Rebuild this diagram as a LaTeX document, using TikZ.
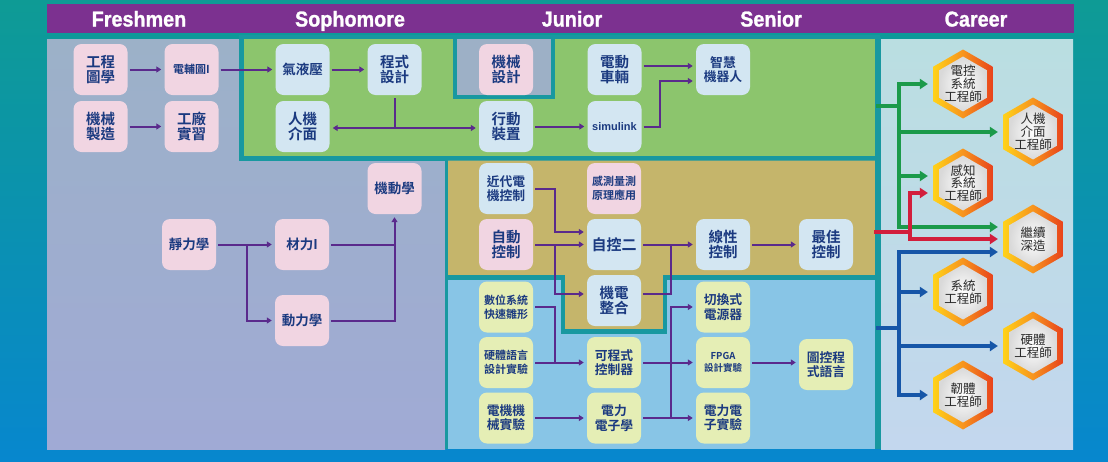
\documentclass[tikz,border=0pt]{standalone}
\usepackage{fontspec}
\newfontfamily\cjk{Noto Sans CJK TC}[BoldFont={Noto Sans CJK TC Bold}]
\newfontfamily\hdrfont{Liberation Sans}[FakeStretch=0.92,FakeBold=1.2]
\newfontfamily\latinfont{Liberation Sans}
\usetikzlibrary{arrows.meta,shapes.geometric}
\definecolor{bgtop}{HTML}{0E9B95}
\definecolor{bgbot}{HTML}{0787CE}
\definecolor{hdrc}{HTML}{7C3190}
\definecolor{lefttop}{HTML}{9CB1C8}
\definecolor{leftbot}{HTML}{A0AAD5}
\definecolor{greenc}{HTML}{8CC56D}
\definecolor{tanc}{HTML}{C5B56B}
\definecolor{bluec}{HTML}{88C5E6}
\definecolor{cartop}{HTML}{BADEE1}
\definecolor{carbot}{HTML}{C3D7EE}
\definecolor{tealb}{HTML}{1898A0}
\definecolor{cutc}{HTML}{9DB0C6}
\definecolor{pinkc}{HTML}{F1D5E2}
\definecolor{lbc}{HTML}{D3E6F2}
\definecolor{ylc}{HTML}{E5EEB5}
\definecolor{navy}{HTML}{1B3A80}
\definecolor{arrc}{HTML}{5A2A8C}
\definecolor{garc}{HTML}{1B9A4A}
\definecolor{rarc}{HTML}{D21E3C}
\definecolor{barc}{HTML}{1656A8}
\definecolor{hexyc}{HTML}{FFD21A}
\definecolor{hexoc}{HTML}{F7941D}
\definecolor{hexrc}{HTML}{E8421C}
\definecolor{hextxt}{HTML}{2A2A2A}
\begin{document}
\begin{tikzpicture}[x=1pt,y=-1pt,
  box/.style={rectangle,rounded corners=8pt,minimum width=54pt,minimum height=51pt,inner sep=0pt,align=center,text=navy},
  pk/.style={box,fill=pinkc},
  lb/.style={box,fill=lbc},
  yl/.style={box,fill=ylc},
  fL/.style={font=\cjk\bfseries\fontsize{14.5}{15.5}\selectfont},
  fM/.style={font=\cjk\bfseries\fontsize{13.5}{14.5}\selectfont},
  fN/.style={font=\cjk\bfseries\fontsize{12.8}{14.3}\selectfont},
  fS/.style={font=\cjk\bfseries\fontsize{11}{14}\selectfont},
  fT/.style={font=\cjk\bfseries\fontsize{9.5}{12}\selectfont},
  hdr/.style={font=\hdrfont\bfseries\fontsize{21.5}{21.5}\selectfont,text=white,inner sep=0pt,anchor=base},
  ln/.style={draw=arrc,line width=2pt},
  arr/.style={ln,-{Triangle[length=5pt,width=6pt]},shorten >=3pt},
  cln/.style={line width=3.2pt},
  carr/.style={line width=3.2pt,-{Triangle[length=8pt,width=10pt]},shorten >=5pt},
  hexout/.style={regular polygon,regular polygon sides=6,shape border rotate=30,minimum size=69pt,inner sep=0pt,left color=hexyc,right color=hexrc,middle color=hexoc},
  hexin/.style={regular polygon,regular polygon sides=6,shape border rotate=30,minimum size=55pt,inner sep=0pt,inner color=white,outer color=black!15},
  hext/.style={inner sep=0pt,align=center,text=hextxt,font=\cjk\fontsize{12.5}{12.8}\selectfont},
  panelline/.style={draw=tealb}
]
\useasboundingbox (0,0) rectangle (1108,461);
% background
\shade[top color=bgtop,bottom color=bgbot] (0,0) rectangle (1108,461);
% header
\fill[hdrc] (47,4) rectangle (1074,33);
\node[hdr] (hf) at (139,26.5) {Freshmen};
\node[hdr] (hs) at (350,26.5) {Sophomore};
\node[hdr] (hj) at (572,26.5) {Junior};
\node[hdr] (hsn) at (771,26.5) {Senior};
\node[hdr] (hc) at (976,26.5) {Career};
% panels
\shade[top color=lefttop,bottom color=leftbot] (47,39) rectangle (445,449);
\filldraw[fill=greenc,panelline,line width=4.5pt] (241.5,37) rectangle (878,158.5);
\filldraw[fill=cutc,panelline,line width=4pt] (454.7,37) rectangle (553,97);
\fill[bluec] (447,277.5) rectangle (877,449);
\fill[tanc] (447,160.5) -- (877,160.5) -- (877,277.5) -- (665,277.5) -- (665,331.5) -- (563,331.5) -- (563,277.5) -- (447,277.5) -- cycle;
\draw[panelline,line width=4.5pt] (446,277.5) -- (563,277.5) -- (563,331.5) -- (665,331.5) -- (665,277.5) -- (877,277.5);
\draw[panelline,line width=3pt] (446.5,157) -- (446.5,449);
\shade[top color=cartop,bottom color=carbot] (881,39) rectangle (1073,449);
\draw[panelline,line width=5.5pt] (878,37) -- (878,449);
% freshman nodes
\node[pk,fL] (gctx) at (100.5,69.5) {工程\\圖學};
\node[pk,fS] (dfut) at (191.5,69.5) {電輔圖I};
\node[pk,fL] (jxzz) at (100.5,126.5) {機械\\製造};
\node[pk,fL] (gcsx) at (191.5,126.5) {工廠\\實習};
% green nodes
\node[lb,fM] (qyy) at (302.5,69.5) {氣液壓};
\node[lb,fL] (cssj) at (394.5,69.5) {程式\\設計};
\node[lb,fL] (rjjm) at (302.5,126.5) {人機\\介面};
\node[pk,fL] (jxsj) at (506,69.5) {機械\\設計};
\node[lb,fL] (xdzz) at (506,126.5) {行動\\裝置};
\node[lb,fL] (ddcl) at (614.5,69.5) {電動\\車輛};
\node[lb,font=\latinfont\bfseries\fontsize{11}{12}\selectfont] (sim) at (614.5,126.5) {simulink};
\node[lb,fN] (zhjq) at (723,69.5) {智慧\\機器人};
% left lower nodes
\node[pk,fM] (jdx) at (394.5,188.5) {機動學};
\node[pk,fM] (jlx) at (189,244.5) {靜力學};
\node[pk,fM] (clI) at (302,244.5) {材力I};
\node[pk,fM] (dlx) at (302,320.5) {動力學};
% tan nodes
\node[lb,fN] (jddj) at (506,188.5) {近代電\\機控制};
\node[pk,fS] (cclc) at (614,188.5) {感測量測\\原理應用};
\node[pk,fL] (zdkz) at (506,244.5) {自動\\控制};
\node[lb,font=\cjk\bfseries\fontsize{15}{16}\selectfont] (zk2) at (614,244.5) {自控二};
\node[lb,fL] (jdzh) at (614,300.5) {機電\\整合};
\node[lb,fL] (xxkz) at (723,244.5) {線性\\控制};
\node[lb,fL] (zjkz) at (826,244.5) {最佳\\控制};
% blue nodes
\node[yl,fS] (swxt) at (506,307) {數位系統\\快速雛形};
\node[yl,fS] (ytyy) at (506,362.5) {硬體語言\\設計實驗};
\node[yl,fN] (djjx) at (506,418) {電機機\\械實驗};
\node[yl,fN] (kcs) at (614,362.5) {可程式\\控制器};
\node[yl,fN] (dldz) at (614,418) {電力\\電子學};
\node[yl,fN] (qhs) at (723,307) {切換式\\電源器};
\node[yl,fT] (fpga) at (723,362.5) {FPGA\\設計實驗};
\node[yl,fN] (dldzs) at (723,418) {電力電\\子實驗};
\node[yl,fN] (tkcs) at (826,364.5) {圖控程\\式語言};
% connectors: top rows
\draw[arr,shorten <=2pt] (gctx.east) -- (dfut.west);
\draw[arr,shorten <=2pt] (jxzz.east) -- (gcsx.west);
\draw[arr,shorten <=2pt] (dfut.east) -- (qyy.west);
\draw[arr,shorten <=2pt] (qyy.east) -- (cssj.west);
\coordinate (j1) at (394.5,128);
\draw[ln,shorten <=3pt] (cssj.south) -- (j1);
\draw[arr] (j1) -- (rjjm.east |- j1);
\draw[arr] (j1) -- (xdzz.west |- j1);
\draw[arr,shorten <=2pt] (xdzz.east) -- (sim.west);
\draw[arr,shorten <=2pt] ([yshift=3.5pt]ddcl.east) -- ([yshift=3.5pt]zhjq.west);
\draw[arr,shorten <=2pt] (sim.east) -- ++(18,0) |- ([yshift=-11.5pt]zhjq.west);
% connectors: mechanics
\draw[arr,shorten <=2pt] (jlx.east) -- (clI.west);
\coordinate (j2) at (247,244.5);
\draw[arr] (j2) |- (dlx.west);
\coordinate (j3) at (394.5,244.5);
\draw[ln,shorten <=2pt] (clI.east) -- (j3);
\draw[arr,shorten <=2pt] (dlx.east) -| (jdx.south);
% connectors: control
\draw[arr,shorten <=2pt] (jddj.east) -- ++(22,0) |- ([yshift=12.5pt]zk2.west);
\draw[arr,shorten <=2pt] (zdkz.east) -- (zk2.west);
\coordinate (j4) at (555,244.5);
\draw[arr] (j4) |- ([yshift=6.5pt]jdzh.west);
\coordinate (j5) at (671,244.5);
\draw[ln,shorten <=2pt] (zk2.east) -- (j5);
\draw[ln,shorten <=2pt] ([yshift=6.5pt]jdzh.east) -| (j5);
\draw[arr] (j5) -- (xxkz.west);
\draw[arr,shorten <=2pt] (xxkz.east) -- (zjkz.west);
% connectors: electronics
\coordinate (j6) at (555,362.5);
\draw[ln,shorten <=2pt] (swxt.east) -| (j6);
\draw[arr,shorten <=2pt] (ytyy.east) -- (kcs.west);
\coordinate (j7) at (671,362.5);
\draw[ln,shorten <=2pt] (kcs.east) -- (j7);
\draw[arr] (j7) -- (fpga.west);
\draw[arr,shorten <=2pt] (dldz.east) -- (dldzs.west);
\coordinate (j8) at (671,418);
\draw[arr] (j8) |- (qhs.west);
\draw[arr,shorten <=2pt] (djjx.east) -- (dldz.west);
\draw[arr,shorten <=2pt] (fpga.east) -- (fpga.east -| tkcs.west);
% career hexagons
\node[hexout] (h1) at (963,84) {};
\node[hexin] (h1i) at (h1) {};
\node[hext] (h1t) at (h1) {電控\\系統\\工程師};
\node[hexout] (h2) at (1033,132) {};
\node[hexin] (h2i) at (h2) {};
\node[hext] (h2t) at (h2) {人機\\介面\\工程師};
\node[hexout] (h3) at (963,183) {};
\node[hexin] (h3i) at (h3) {};
\node[hext] (h3t) at (h3) {感知\\系統\\工程師};
\node[hexout] (h4) at (1033,239) {};
\node[hexin] (h4i) at (h4) {};
\node[hext] (h4t) at (h4) {繼續\\深造};
\node[hexout] (h5) at (963,292) {};
\node[hexin] (h5i) at (h5) {};
\node[hext] (h5t) at (h5) {系統\\工程師};
\node[hexout] (h6) at (1033,346) {};
\node[hexin] (h6i) at (h6) {};
\node[hext] (h6t) at (h6) {硬體\\工程師};
\node[hexout] (h7) at (963,395) {};
\node[hexin] (h7i) at (h7) {};
\node[hext] (h7t) at (h7) {韌體\\工程師};
% career arrows
\coordinate (gs) at (876,106); \coordinate (gj) at (899,106);
\draw[cln,garc] (gs) -- (gj);
\draw[carr,garc] (gj) |- (h1.west);
\draw[carr,garc] (gj) |- (h2.west);
\draw[carr,garc] (gj) |- ([yshift=7pt]h3.west);
\draw[carr,garc] (gj) |- ([yshift=12pt]h4.west);
\coordinate (rs) at (874,232); \coordinate (rj) at (910,232);
\draw[cln,rarc] (rs) -- (rj);
\draw[carr,rarc] (rj) |- ([yshift=-10pt]h3.west);
\draw[carr,rarc] (rj) |- (h4.west);
\coordinate (bs) at (876,328); \coordinate (bj) at (899,328);
\draw[cln,barc] (bs) -- (bj);
\draw[carr,barc] (bj) |- ([yshift=-13pt]h4.west);
\draw[carr,barc] (bj) |- (h5.west);
\draw[carr,barc] (bj) |- (h6.west);
\draw[carr,barc] (bj) |- (h7.west);
\end{tikzpicture}
\end{document}
